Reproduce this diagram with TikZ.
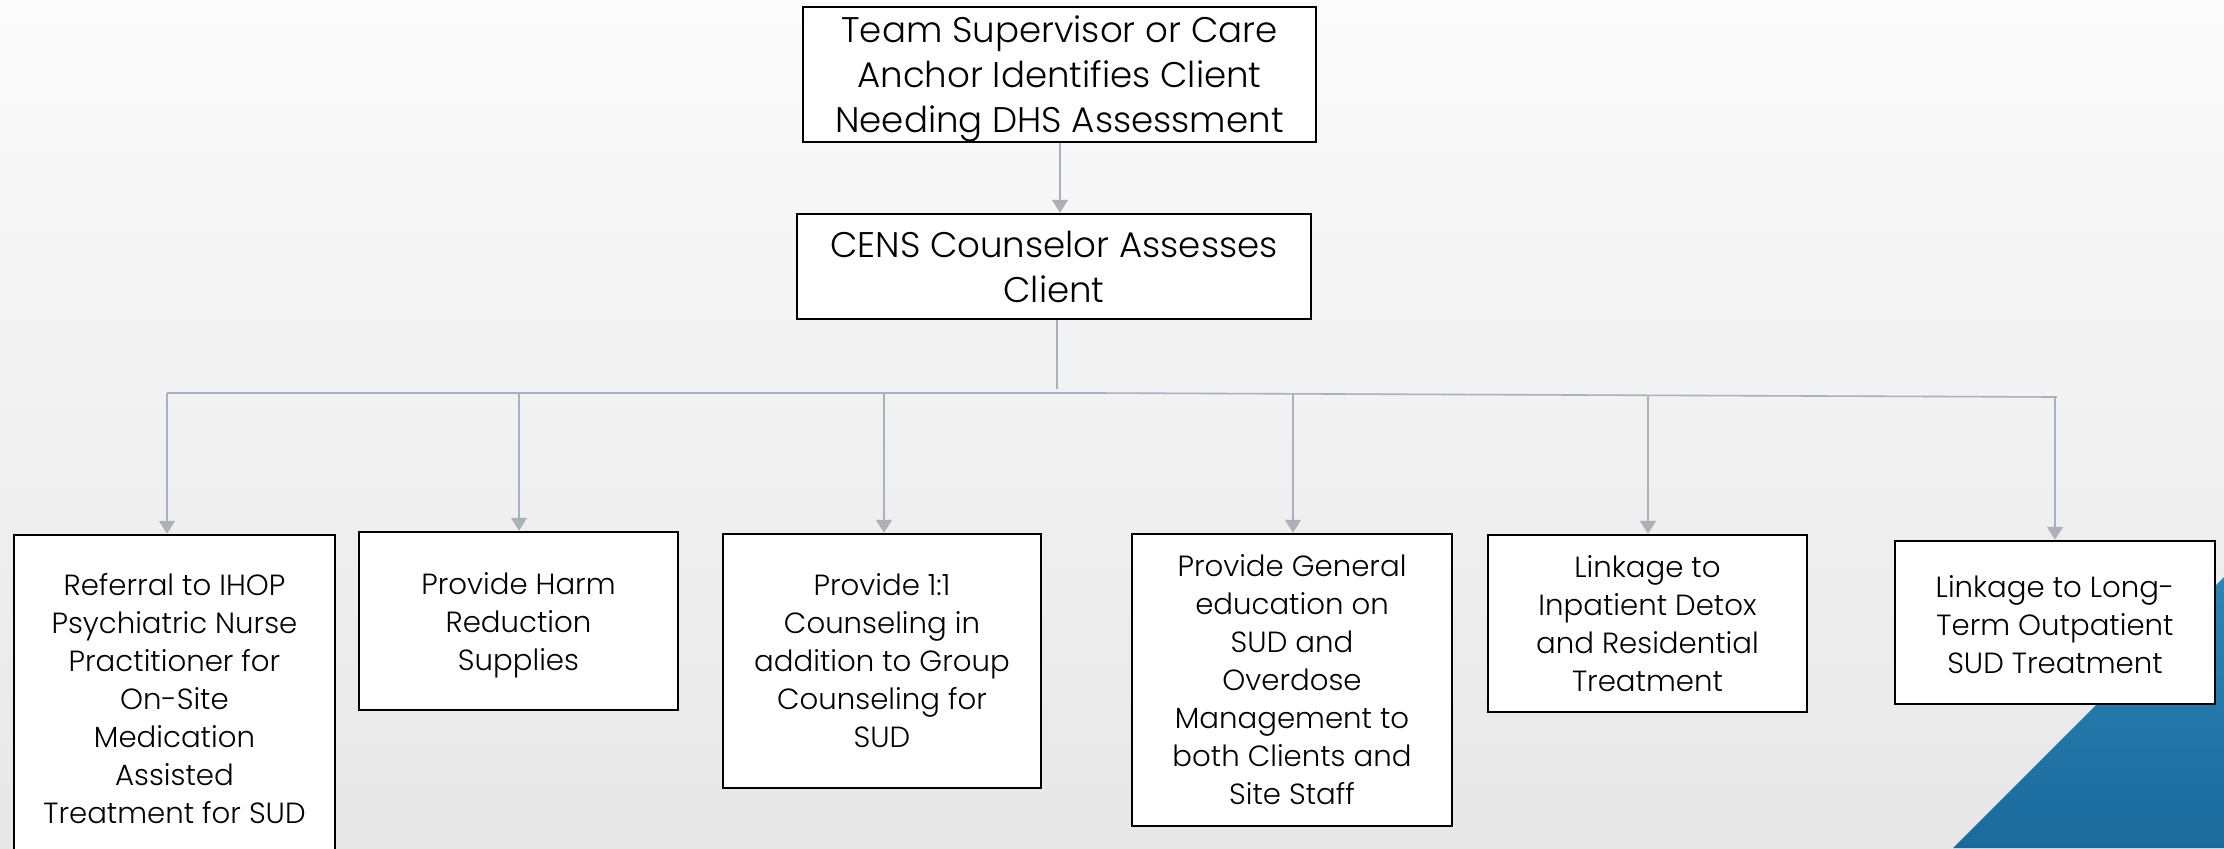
\documentclass[tikz,border=0pt]{standalone}
\usepackage{fontspec}
\IfFontExistsTF{Poppins Light}{\setmainfont{Poppins Light}}{\setmainfont{Poppins}}
\usetikzlibrary{arrows.meta}
\definecolor{conn}{HTML}{AAB1B9}
\definecolor{bgtop}{HTML}{FBFBFB}
\definecolor{bgbot}{HTML}{E7E7E7}
\definecolor{bluetop}{HTML}{2A86B6}
\definecolor{bluebot}{HTML}{1B6A9C}
\tikzset{
  box/.style={draw=black, line width=1.25pt, fill=white, inner sep=0pt, align=center},
  bigtext/.style={font=\fontsize{17.8}{22.5}\selectfont},
  smalltext/.style={font=\fontsize{14.6}{19}\selectfont},
  conline/.style={draw=conn, line width=0.8pt},
  arr/.style={conline, -{Triangle[width=8pt,length=6.5pt]}},
}
\begin{document}
\begin{tikzpicture}[x=0.5pt, y=-0.5pt]
\useasboundingbox (0,0) rectangle (2224,848);
\clip (0,0) rectangle (2224,848);
\shade[top color=bgtop, bottom color=bgbot] (0,0) rectangle (2224,848);
\shade[top color=bluetop, bottom color=bluebot] (1953,848) -- (2224,577) -- (2224,848) -- cycle;

\node[box, bigtext, minimum width=256.5pt, minimum height=67.5pt] (top) at (1059.5,74.5)
  {\rule{0pt}{17.3pt}Team Supervisor or Care\\Anchor Identifies Client\\Needing DHS Assessment};
\node[box, bigtext, minimum width=257pt, minimum height=52.5pt] (cens) at (1054,266.5)
  {CENS Counselor Assesses\\Client};

\node[box, smalltext, minimum width=160.5pt, minimum height=163.5pt] (b1) at (174.5,698.5)
  {Referral to IHOP\\Psychiatric Nurse\\Practitioner for\\On-Site\\Medication\\Assisted\\Treatment for SUD};
\node[box, smalltext, minimum width=159.5pt, minimum height=89pt] (b2) at (518.5,621)
  {\rule{0pt}{15pt}Provide Harm\\Reduction\\Supplies};
\node[box, smalltext, minimum width=159pt, minimum height=127pt] (b3) at (882,661)
  {Provide 1:1\\Counseling in\\addition to Group\\Counseling for\\SUD};
\node[box, smalltext, minimum width=160pt, minimum height=146pt] (b4) at (1292,680)
  {Provide General\\education on\\SUD and\\Overdose\\Management to\\both Clients and\\Site Staff};
\node[box, smalltext, minimum width=159.5pt, minimum height=88.5pt] (b5) at (1647.5,623.5)
  {Linkage to\\Inpatient Detox\\and Residential\\Treatment};
\node[box, smalltext, minimum width=160pt, minimum height=81.5pt] (b6) at (2055,622.5)
  {\rule{0pt}{13pt}Linkage to Long-\\Term Outpatient\\SUD Treatment};

\coordinate (hub) at (1057,389);
\coordinate (bL) at (167,393);
\coordinate (bM) at (1097,393);
\coordinate (bR) at (2057,397);
\coordinate (j1) at (167,393);
\coordinate (j2) at (519,393);
\coordinate (j3) at (884,393);
\coordinate (j4) at (1293,393.8);
\coordinate (j5) at (1648,395.3);
\coordinate (j6) at (2055,397);

\draw[arr] (top.south -| 1060,0) -- (cens.north -| 1060,0);
\draw[conline] (cens.south -| hub) -- (hub);
\draw[conline] (bL) -- (bM) -- (bR);
\draw[arr] (j1) -- (j1 |- b1.north);
\draw[arr] (j2) -- (j2 |- b2.north);
\draw[arr] (j3) -- (j3 |- b3.north);
\draw[arr] (j4) -- (j4 |- b4.north);
\draw[arr] (j5) -- (j5 |- b5.north);
\draw[arr] (j6) -- (j6 |- b6.north);
\end{tikzpicture}
\end{document}
